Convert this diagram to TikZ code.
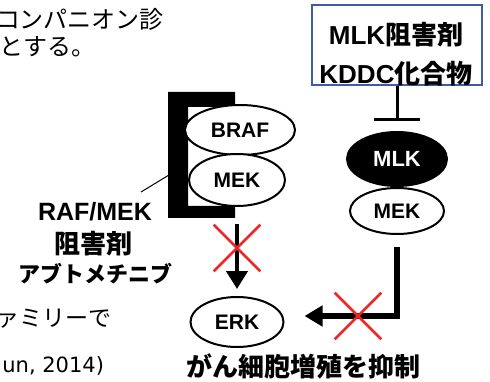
\documentclass[tikz,border=0pt]{standalone}
\usepackage{fontspec}
\setmainfont{Liberation Sans}
\newfontfamily\jp[Kerning=Off]{Noto Sans CJK JP}
\newfontfamily\dvs{DejaVu Sans}
\usetikzlibrary{arrows.meta,shapes.geometric,shapes.misc}
\definecolor{boxblue}{RGB}{66,90,170}
\definecolor{xred}{RGB}{235,40,40}
\newcommand{\fs}[1]{\fontsize{#1pt}{#1pt}\selectfont}
\begin{document}
\begin{tikzpicture}[x=1pt,y=-1pt,
  prot/.style={draw,ellipse,line width=2pt,fill=white,inner sep=0pt,font=\fs{21}\bfseries},
  xmark/.style={draw=xred,cross out,line width=2.6pt,minimum size=44pt,inner sep=0pt},
  txt/.style={inner sep=0pt,outer sep=0pt},
]
\useasboundingbox (0,0) rectangle (490,382);
\clip (0,0) rectangle (490,382);

% top-left text
\node[txt,anchor=west] (t1) at (-4,19) {\jp\fs{24}コンパニオン診};
\node[txt,anchor=west] (t2) at (-1,47) {\jp\fs{24}とする。};
\node[txt,anchor=east] (t3) at (112,319) {\jp\fs{23}ファミリーで};
\node[txt,anchor=east] (t4) at (104,366) {\dvs\fs{21}un, 2014)};

% bracket
\fill (168,92) -- (235,92) -- (235,107) -- (188,107) -- (188,206) -- (235,206) -- (235,218) -- (168,218) -- cycle;
\coordinate (brk) at (169,175);
\coordinate (lblend) at (141,192);
\draw[line width=1pt] (brk) -- (lblend);

% left labels
\node[txt] (rafmek) at (95,212) {\bfseries\fs{25}RAF/MEK};
\node[txt] (sogai) at (93,244) {\jp\bfseries\fs{26}阻害剤};
\node[txt] (abt) at (95,274) {\jp\bfseries\fs{22}アブトメチニブ};

% left proteins
\node[prot,minimum width=110pt,minimum height=50pt] (braf) at (240,130) {BRAF};
\node[prot,minimum width=96pt,minimum height=52pt] (mekL) at (237,180) {MEK};
\node[prot,minimum width=93pt,minimum height=50pt] (erk) at (237,322) {ERK};

% MLK inhibitor box
\node[draw=boxblue,line width=2.5pt,minimum width=170pt,minimum height=80pt,inner sep=0pt] (box) at (397,45) {};
\node[txt,align=center,font=\bfseries\fs{26}] (boxtxt) at (396,54)
  {MLK{\jp 阻害剤}\\[13pt]KDDC{\jp 化合物}};

% right proteins
\node[draw,ellipse,fill=black,line width=2pt,inner sep=0pt,minimum width=100pt,minimum height=54pt,text=white,font=\fs{22}\bfseries] (mlk) at (397,159) {MLK};
\node[prot,minimum width=94pt,minimum height=46pt] (mekR) at (397,211) {MEK};

% connectors
\draw[line width=3pt,-{Bar[width=46pt,line width=3pt]},shorten >=10pt] (box.south) -- (mlk.north);
\draw[line width=4pt,-{Triangle[length=18pt,width=21pt]},shorten <=17pt,shorten >=7pt] (mekL.south) -- (erk.north);
\draw[line width=6pt,-{Triangle[length=18pt,width=20pt]},shorten <=12pt,shorten >=20pt] (mekR.south) |- ([yshift=6pt]erk.east);

% red crosses
\node[xmark] (x1) at (237,248) {};
\node[xmark] (x2) at (358,316) {};

% bottom text
\node[txt] (result) at (303,366) {\jp\bfseries\fs{26}がん細胞増殖を抑制};
\end{tikzpicture}
\end{document}
